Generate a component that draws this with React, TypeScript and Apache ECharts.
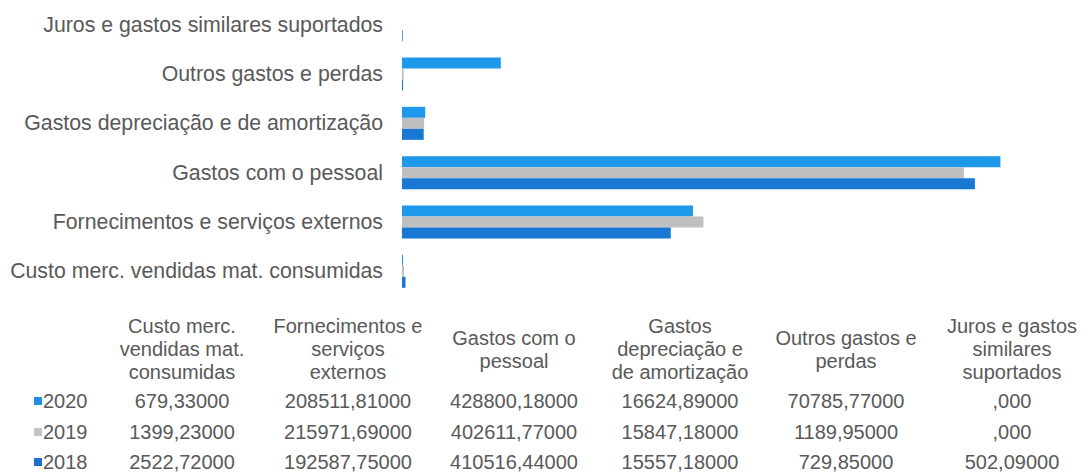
import React, { useEffect, useRef } from "react";
import * as echarts from "echarts";

const categories = [
  "Custo merc. vendidas mat. consumidas",
  "Fornecimentos e serviços externos",
  "Gastos com o pessoal",
  "Gastos depreciação e de amortização",
  "Outros gastos e perdas",
  "Juros e gastos similares suportados",
];
const tableHeaders = [
  "Custo merc.\nvendidas mat.\nconsumidas",
  "Fornecimentos e\nserviços\nexternos",
  "Gastos com o\npessoal",
  "Gastos\ndepreciação e\nde amortização",
  "Outros gastos e\nperdas",
  "Juros e gastos\nsimilares\nsuportados",
];
const years = ["2020", "2019", "2018"];
const values2020 = [679.33, 208511.81, 428800.18, 16624.89, 70785.77, 0];
const values2019 = [1399.23, 215971.69, 402611.77, 15847.18, 1189.95, 0];
const values2018 = [2522.72, 192587.75, 410516.44, 15557.18, 729.85, 502.09];
const seriesValues = [values2020, values2019, values2018];
const barColors = ["#1E98E8", "#BFBFBF", "#1878D4"];
const keyColors = ["#1E90E2", "#C4C4C4", "#1A70CC"];

const fmt = (v: number) => (v === 0 ? ",000" : v.toFixed(5).replace(".", ","));

export default function App() {
  const ref = useRef<HTMLDivElement>(null);
  useEffect(() => {
    document.body.style.margin = "0";
    const chart = echarts.init(ref.current!, null, { renderer: "svg" });
    const textColor = "#595959";
    const family = "'Liberation Sans', Arial, sans-serif";
    const font = "20px " + family;
    const colX = [182, 348, 514, 680, 846, 1012];
    const headerY = 349;
    const rowY = [401, 432, 462];
    const graphics: any[] = [];
    tableHeaders.forEach((h, i) => {
      graphics.push({
        type: "text",
        x: colX[i],
        y: headerY,
        style: { text: h, font, fill: textColor, align: "center", verticalAlign: "middle", lineHeight: 23 },
      });
    });
    years.forEach((yr, r) => {
      graphics.push({
        type: "rect",
        shape: { x: 34, y: rowY[r] - 4, width: 8, height: 8 },
        style: { fill: keyColors[r] },
      });
      graphics.push({
        type: "text",
        x: 43,
        y: rowY[r],
        style: { text: yr, font, fill: textColor, align: "left", verticalAlign: "middle" },
      });
      seriesValues[r].forEach((v, i) => {
        graphics.push({
          type: "text",
          x: colX[i],
          y: rowY[r],
          style: { text: fmt(v), font, fill: textColor, align: "center", verticalAlign: "middle" },
        });
      });
    });

    chart.setOption({
      animation: false,
      grid: { left: 402, top: -1, width: 628, height: 297, containLabel: false },
      xAxis: {
        type: "value",
        min: 0,
        max: 450000,
        show: false,
        splitLine: { show: false },
      },
      yAxis: {
        type: "category",
        data: categories,
        axisLine: { show: false },
        axisTick: { show: false },
        axisLabel: {
          margin: 19,
          fontSize: 21.3,
          fontFamily: family,
          color: textColor,
        },
      },
      series: years.map((yr, i) => ({
        name: yr,
        type: "bar",
        data: seriesValues[i],
        barWidth: 11,
        barGap: "0%",
        itemStyle: { color: barColors[i] },
      })),
      graphic: graphics,
    });
    return () => chart.dispose();
  }, []);
  return <div ref={ref} style={{ width: 1088, height: 474 }} />;
}
